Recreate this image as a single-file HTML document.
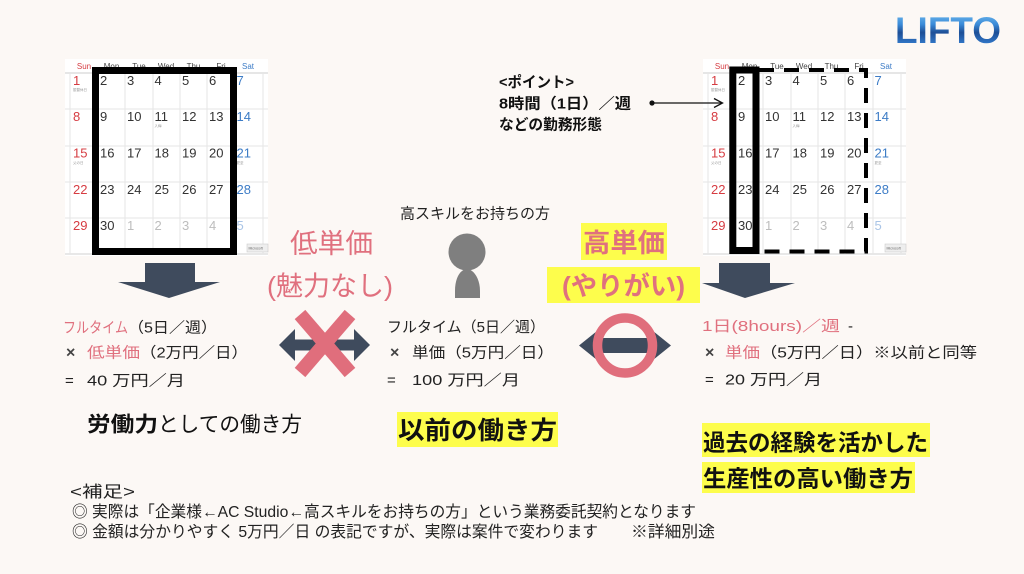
<!DOCTYPE html>
<html lang="ja">
<head>
<meta charset="utf-8">
<style>
  html,body{margin:0;padding:0;background:#fcf8f5;}
  svg{display:block;}
  text{font-family:"Liberation Sans","Noto Sans CJK JP",sans-serif;}
</style>
</head>
<body>
<svg width="1024" height="574" viewBox="0 0 1024 574" xmlns="http://www.w3.org/2000/svg">
  <defs>
    <linearGradient id="logo" x1="0" y1="0" x2="0" y2="1">
      <stop offset="0" stop-color="#7cc4f2"/>
      <stop offset="0.35" stop-color="#3a8ad8"/>
      <stop offset="0.55" stop-color="#1d4e96"/>
      <stop offset="0.8" stop-color="#2f74c4"/>
      <stop offset="1" stop-color="#5aa6e6"/>
    </linearGradient>
  </defs>
  <rect x="0" y="0" width="1024" height="574" fill="#fcf8f5"/>

  <!-- LOGO -->
  <text x="895" y="43" font-size="37" font-weight="bold" fill="url(#logo)" textLength="106" lengthAdjust="spacingAndGlyphs">LIFTO</text>

  <!-- LEFT CALENDAR -->
  <g>
    <rect x="65" y="59" width="203" height="197" fill="#ffffff"/>
    <g font-size="8" text-anchor="middle" fill="#444">
      <text x="84" y="69" fill="#d63c42">Sun</text>
      <text x="111.5" y="69">Mon</text>
      <text x="139" y="69">Tue</text>
      <text x="166" y="69">Wed</text>
      <text x="193.5" y="69">Thu</text>
      <text x="221" y="69">Fri</text>
      <text x="248" y="69" fill="#3d7cc6">Sat</text>
    </g>
    <line x1="65" y1="73" x2="268" y2="73" stroke="#d8d8d8" stroke-width="1.2"/>
    <g stroke="#e6e6e6" stroke-width="1">
      <line x1="65" y1="109" x2="268" y2="109"/>
      <line x1="65" y1="146" x2="268" y2="146"/>
      <line x1="65" y1="182" x2="268" y2="182"/>
      <line x1="65" y1="218" x2="268" y2="218"/>
      <line x1="65" y1="254" x2="268" y2="254" stroke="#d0d0d0"/>
      <line x1="70" y1="73" x2="70" y2="254"/>
      <line x1="98" y1="73" x2="98" y2="254"/>
      <line x1="125" y1="73" x2="125" y2="254"/>
      <line x1="153" y1="73" x2="153" y2="254"/>
      <line x1="180" y1="73" x2="180" y2="254"/>
      <line x1="207" y1="73" x2="207" y2="254"/>
      <line x1="235" y1="73" x2="235" y2="254"/>
      <line x1="263" y1="73" x2="263" y2="254"/>
    </g>
    <g font-size="13" fill="#333">
      <text x="73" y="85" fill="#d63c42">1</text>
      <text x="100" y="85">2</text>
      <text x="127" y="85">3</text>
      <text x="154.5" y="85">4</text>
      <text x="182" y="85">5</text>
      <text x="209" y="85">6</text>
      <text x="236.5" y="85" fill="#3d7cc6">7</text>

      <text x="73" y="121" fill="#d63c42">8</text>
      <text x="100" y="121">9</text>
      <text x="127" y="121">10</text>
      <text x="154.5" y="121">11</text>
      <text x="182" y="121">12</text>
      <text x="209" y="121">13</text>
      <text x="236.5" y="121" fill="#3d7cc6">14</text>

      <text x="73" y="157.5" fill="#d63c42">15</text>
      <text x="100" y="157.5">16</text>
      <text x="127" y="157.5">17</text>
      <text x="154.5" y="157.5">18</text>
      <text x="182" y="157.5">19</text>
      <text x="209" y="157.5">20</text>
      <text x="236.5" y="157.5" fill="#3d7cc6">21</text>

      <text x="73" y="194" fill="#d63c42">22</text>
      <text x="100" y="194">23</text>
      <text x="127" y="194">24</text>
      <text x="154.5" y="194">25</text>
      <text x="182" y="194">26</text>
      <text x="209" y="194">27</text>
      <text x="236.5" y="194" fill="#3d7cc6">28</text>

      <text x="73" y="230" fill="#d63c42">29</text>
      <text x="100" y="230">30</text>
      <text x="127" y="230" fill="#bdbdbd">1</text>
      <text x="154.5" y="230" fill="#bdbdbd">2</text>
      <text x="182" y="230" fill="#bdbdbd">3</text>
      <text x="209" y="230" fill="#bdbdbd">4</text>
      <text x="236.5" y="230" fill="#a9c4e6">5</text>
    </g>
    <g font-size="3.5" fill="#999">
      <text x="73" y="91">振替休日</text>
      <text x="154.5" y="127">入梅</text>
      <text x="73" y="164">父の日</text>
      <text x="236.5" y="164">夏至</text>
    </g>
    <rect x="247" y="244" width="21" height="8" fill="#eeeeee" stroke="#cccccc" stroke-width="0.6"/>
    <text x="248.5" y="249.5" font-size="3.5" fill="#666">Microsoft</text>
    <rect x="95.5" y="70.5" width="138" height="181" fill="none" stroke="#000" stroke-width="7"/>
  </g>

  <!-- RIGHT CALENDAR -->
  <g transform="translate(638,0)">
    <rect x="65" y="59" width="203" height="197" fill="#ffffff"/>
    <g font-size="8" text-anchor="middle" fill="#444">
      <text x="84" y="69" fill="#d63c42">Sun</text>
      <text x="111.5" y="69">Mon</text>
      <text x="139" y="69">Tue</text>
      <text x="166" y="69">Wed</text>
      <text x="193.5" y="69">Thu</text>
      <text x="221" y="69">Fri</text>
      <text x="248" y="69" fill="#3d7cc6">Sat</text>
    </g>
    <line x1="65" y1="73" x2="268" y2="73" stroke="#d8d8d8" stroke-width="1.2"/>
    <g stroke="#e6e6e6" stroke-width="1">
      <line x1="65" y1="109" x2="268" y2="109"/>
      <line x1="65" y1="146" x2="268" y2="146"/>
      <line x1="65" y1="182" x2="268" y2="182"/>
      <line x1="65" y1="218" x2="268" y2="218"/>
      <line x1="65" y1="254" x2="268" y2="254" stroke="#d0d0d0"/>
      <line x1="70" y1="73" x2="70" y2="254"/>
      <line x1="98" y1="73" x2="98" y2="254"/>
      <line x1="125" y1="73" x2="125" y2="254"/>
      <line x1="153" y1="73" x2="153" y2="254"/>
      <line x1="180" y1="73" x2="180" y2="254"/>
      <line x1="207" y1="73" x2="207" y2="254"/>
      <line x1="235" y1="73" x2="235" y2="254"/>
      <line x1="263" y1="73" x2="263" y2="254"/>
    </g>
    <g font-size="13" fill="#333">
      <text x="73" y="85" fill="#d63c42">1</text>
      <text x="100" y="85">2</text>
      <text x="127" y="85">3</text>
      <text x="154.5" y="85">4</text>
      <text x="182" y="85">5</text>
      <text x="209" y="85">6</text>
      <text x="236.5" y="85" fill="#3d7cc6">7</text>

      <text x="73" y="121" fill="#d63c42">8</text>
      <text x="100" y="121">9</text>
      <text x="127" y="121">10</text>
      <text x="154.5" y="121">11</text>
      <text x="182" y="121">12</text>
      <text x="209" y="121">13</text>
      <text x="236.5" y="121" fill="#3d7cc6">14</text>

      <text x="73" y="157.5" fill="#d63c42">15</text>
      <text x="100" y="157.5">16</text>
      <text x="127" y="157.5">17</text>
      <text x="154.5" y="157.5">18</text>
      <text x="182" y="157.5">19</text>
      <text x="209" y="157.5">20</text>
      <text x="236.5" y="157.5" fill="#3d7cc6">21</text>

      <text x="73" y="194" fill="#d63c42">22</text>
      <text x="100" y="194">23</text>
      <text x="127" y="194">24</text>
      <text x="154.5" y="194">25</text>
      <text x="182" y="194">26</text>
      <text x="209" y="194">27</text>
      <text x="236.5" y="194" fill="#3d7cc6">28</text>

      <text x="73" y="230" fill="#d63c42">29</text>
      <text x="100" y="230">30</text>
      <text x="127" y="230" fill="#bdbdbd">1</text>
      <text x="154.5" y="230" fill="#bdbdbd">2</text>
      <text x="182" y="230" fill="#bdbdbd">3</text>
      <text x="209" y="230" fill="#bdbdbd">4</text>
      <text x="236.5" y="230" fill="#a9c4e6">5</text>
    </g>
    <g font-size="3.5" fill="#999">
      <text x="73" y="91">振替休日</text>
      <text x="154.5" y="127">入梅</text>
      <text x="73" y="164">父の日</text>
      <text x="236.5" y="164">夏至</text>
    </g>
    <rect x="247" y="244" width="21" height="8" fill="#eeeeee" stroke="#cccccc" stroke-width="0.6"/>
    <text x="248.5" y="249.5" font-size="3.5" fill="#666">Microsoft</text>
  </g>
  <!-- right calendar highlights -->
  <path d="M759 70 H866 V251.5 H759" fill="none" stroke="#000" stroke-width="4" stroke-dasharray="15 10"/>
  <rect x="732.8" y="70" width="23.2" height="180.5" fill="none" stroke="#000" stroke-width="7"/>

  <!-- Point annotation -->
  <g font-size="15" font-weight="bold" fill="#111">
    <text x="499" y="87" textLength="75" lengthAdjust="spacingAndGlyphs">&lt;ポイント&gt;</text>
    <text x="499" y="108.7" textLength="132" lengthAdjust="spacingAndGlyphs">8時間（1日）／週</text>
    <text x="499" y="129.7" textLength="103" lengthAdjust="spacingAndGlyphs">などの勤務形態</text>
  </g>
  <circle cx="652" cy="103" r="2.6" fill="#111"/>
  <line x1="652" y1="103" x2="722" y2="103" stroke="#111" stroke-width="1.3"/>
  <polyline points="714,98.5 722.5,103 714,107.5" fill="none" stroke="#111" stroke-width="1.3"/>

  <!-- Down arrows -->
  <polygon points="145,263 195,263 195,282 220,282 169,298 118,282 145,282" fill="#3f4b5d"/>
  <polygon points="719,263 770,263 770,283 795,283 745,298 702,283 719,283" fill="#3f4b5d"/>

  <!-- middle labels -->
  <text x="400" y="218.7" font-size="15" fill="#222" textLength="150" lengthAdjust="spacingAndGlyphs">高スキルをお持ちの方</text>
  <text x="290" y="253" font-size="27" fill="#e0707e" textLength="83" lengthAdjust="spacingAndGlyphs">低単価</text>
  <text x="267" y="295.5" font-size="27" fill="#e0707e" textLength="126" lengthAdjust="spacingAndGlyphs">(魅力なし)</text>

  <rect x="581" y="223" width="86" height="37" fill="#fdfd4c"/>
  <text x="583" y="252" font-size="26" font-weight="bold" fill="#e0707e" textLength="82" lengthAdjust="spacingAndGlyphs">高単価</text>
  <rect x="547" y="267" width="153" height="36" fill="#fdfd4c"/>
  <text x="562" y="295" font-size="26" font-weight="bold" fill="#e0707e" textLength="123" lengthAdjust="spacingAndGlyphs">(やりがい)</text>

  <!-- person -->
  <circle cx="467" cy="252" r="18.5" fill="#7f7f7f"/>
  <path d="M455 298 L455 291 C455 281 458 274 462 271 C465 268.5 469 268.5 472 271 C476 274 480 281 480 291 L480 298 Z" fill="#7f7f7f"/>

  <!-- X symbol -->
  <polygon points="279,345 295,329 295,339.5 354,339.5 354,329 370,345 354,361 354,350.5 295,350.5 295,361" fill="#3f4b5d"/>
  <line x1="300" y1="314.5" x2="350" y2="372.5" stroke="#e06e7c" stroke-width="14"/>
  <line x1="350" y1="314.5" x2="300" y2="372.5" stroke="#e06e7c" stroke-width="14"/>

  <!-- Circle symbol -->
  <polygon points="579,345.5 597,331 597,338 653,338 653,331 671,345.5 653,360 653,353 597,353 597,360" fill="#3f4b5d"/>
  <circle cx="625" cy="345.5" r="27.5" fill="none" stroke="#e06e7c" stroke-width="9.5"/>

  <!-- LEFT text block -->
  <g font-size="15" fill="#222">
    <text x="63" y="332.5" fill="#e0707e" textLength="65" lengthAdjust="spacingAndGlyphs">フルタイム</text>
    <text x="128" y="332.5" textLength="89" lengthAdjust="spacingAndGlyphs">（5日／週）</text>
    <text x="66" y="357.5" font-weight="bold" fill="#444" font-size="16">×</text>
    <text x="87" y="357.5" fill="#e0707e" textLength="53" lengthAdjust="spacingAndGlyphs">低単価</text>
    <text x="140" y="357.5" textLength="108" lengthAdjust="spacingAndGlyphs">（2万円／日）</text>
    <text x="65" y="385.5">=</text>
    <text x="87" y="385.5" textLength="98" lengthAdjust="spacingAndGlyphs">40 万円／月</text>
  </g>
  <text x="87" y="431.5" font-size="21" font-weight="bold" fill="#111" textLength="71" lengthAdjust="spacingAndGlyphs">労働力</text>
  <text x="158" y="431.5" font-size="21" fill="#111" textLength="144" lengthAdjust="spacingAndGlyphs">としての働き方</text>

  <!-- MIDDLE text block -->
  <g font-size="15" fill="#222">
    <text x="387" y="332" textLength="158" lengthAdjust="spacingAndGlyphs">フルタイム（5日／週）</text>
    <text x="390" y="357.5" font-weight="bold" fill="#444" font-size="16">×</text>
    <text x="412" y="357.5" textLength="142" lengthAdjust="spacingAndGlyphs">単価（5万円／日）</text>
    <text x="387" y="385">=</text>
    <text x="412" y="385" textLength="108" lengthAdjust="spacingAndGlyphs">100 万円／月</text>
  </g>
  <rect x="397" y="412" width="161" height="35" fill="#fdfd4c"/>
  <text x="398" y="439" font-size="25" font-weight="bold" fill="#111" textLength="159" lengthAdjust="spacingAndGlyphs">以前の働き方</text>

  <!-- RIGHT text block -->
  <g font-size="15" fill="#222">
    <text x="702" y="331" fill="#e0707e" textLength="138" lengthAdjust="spacingAndGlyphs">1日(8hours)／週</text>
    <text x="848" y="331">-</text>
    <text x="705" y="357.5" font-weight="bold" fill="#444" font-size="16">×</text>
    <text x="725" y="357.5" fill="#e0707e" textLength="35" lengthAdjust="spacingAndGlyphs">単価</text>
    <text x="760" y="357.5" textLength="217" lengthAdjust="spacingAndGlyphs">（5万円／日）※以前と同等</text>
    <text x="705" y="384.5">=</text>
    <text x="725" y="384.5" textLength="97" lengthAdjust="spacingAndGlyphs">20 万円／月</text>
  </g>
  <rect x="702" y="423" width="228" height="34" fill="#fdfd4c"/>
  <text x="703" y="450.5" font-size="23" font-weight="bold" fill="#111" textLength="225" lengthAdjust="spacingAndGlyphs">過去の経験を活かした</text>
  <rect x="702" y="462" width="213" height="31" fill="#fdfd4c"/>
  <text x="703" y="486.5" font-size="23" font-weight="bold" fill="#111" textLength="210" lengthAdjust="spacingAndGlyphs">生産性の高い働き方</text>

  <!-- bottom notes -->
  <g font-size="16" fill="#222">
    <text x="70" y="497" textLength="65" lengthAdjust="spacingAndGlyphs">&lt;補足&gt;</text>
    <text x="72" y="517" textLength="624" lengthAdjust="spacingAndGlyphs">◎ 実際は「企業様←AC Studio←高スキルをお持ちの方」という業務委託契約となります</text>
    <text x="72" y="537" textLength="526" lengthAdjust="spacingAndGlyphs">◎ 金額は分かりやすく 5万円／日 の表記ですが、実際は案件で変わります</text>
    <text x="631" y="537" textLength="84" lengthAdjust="spacingAndGlyphs">※詳細別途</text>
  </g>
</svg>
</body>
</html>
